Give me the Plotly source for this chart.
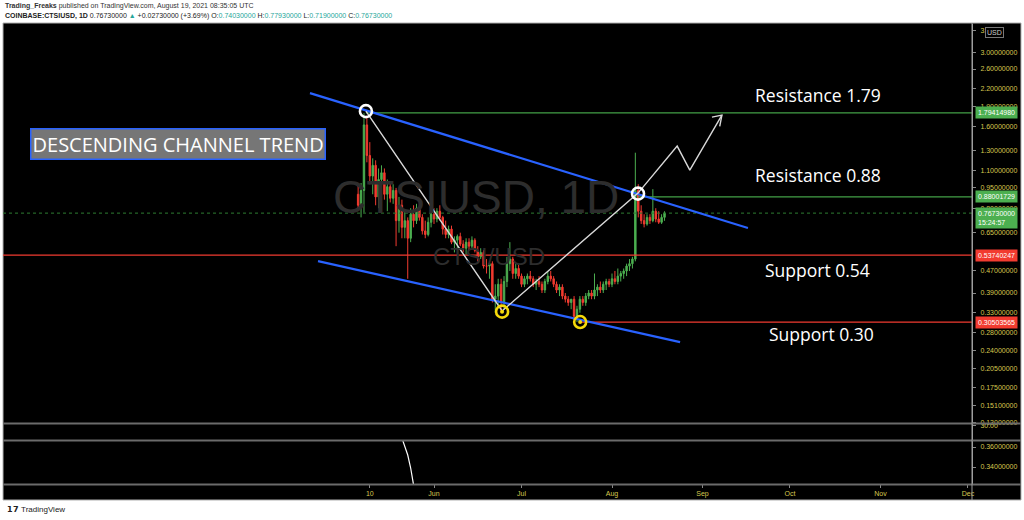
import math
import plotly.graph_objects as go

# ---------------- data ----------------
dates = [
    "2021-05-06", "2021-05-07", "2021-05-08", "2021-05-09", "2021-05-10", "2021-05-11", "2021-05-12",
    "2021-05-13", "2021-05-14", "2021-05-15", "2021-05-16", "2021-05-17", "2021-05-18", "2021-05-19",
    "2021-05-20", "2021-05-21", "2021-05-22", "2021-05-23", "2021-05-24", "2021-05-25", "2021-05-26",
    "2021-05-27", "2021-05-28", "2021-05-29", "2021-05-30", "2021-05-31", "2021-06-01", "2021-06-02",
    "2021-06-03", "2021-06-04", "2021-06-05", "2021-06-06", "2021-06-07", "2021-06-08", "2021-06-09",
    "2021-06-10", "2021-06-11", "2021-06-12", "2021-06-13", "2021-06-14", "2021-06-15", "2021-06-16",
    "2021-06-17", "2021-06-18", "2021-06-19", "2021-06-20", "2021-06-21", "2021-06-22", "2021-06-23",
    "2021-06-24", "2021-06-25", "2021-06-26", "2021-06-27", "2021-06-28", "2021-06-29", "2021-06-30",
    "2021-07-01", "2021-07-02", "2021-07-03", "2021-07-04", "2021-07-05", "2021-07-06", "2021-07-07",
    "2021-07-08", "2021-07-09", "2021-07-10", "2021-07-11", "2021-07-12", "2021-07-13", "2021-07-14",
    "2021-07-15", "2021-07-16", "2021-07-17", "2021-07-18", "2021-07-19", "2021-07-20", "2021-07-21",
    "2021-07-22", "2021-07-23", "2021-07-24", "2021-07-25", "2021-07-26", "2021-07-27", "2021-07-28",
    "2021-07-29", "2021-07-30", "2021-07-31", "2021-08-01", "2021-08-02", "2021-08-03", "2021-08-04",
    "2021-08-05", "2021-08-06", "2021-08-07", "2021-08-08", "2021-08-09", "2021-08-10", "2021-08-11",
    "2021-08-12", "2021-08-13", "2021-08-14", "2021-08-15", "2021-08-16", "2021-08-17", "2021-08-18",
    "2021-08-19",
]
opens = [
    0.90, 0.82, 0.93, 1.62, 1.25, 1.05, 1.15, 0.88, 1.02, 1.08, 0.90, 0.96, 0.87, 0.93,
    0.72, 0.82, 0.68, 0.72, 0.62, 0.76, 0.72, 0.80, 0.74, 0.66, 0.64, 0.71, 0.76, 0.73,
    0.78, 0.74, 0.67, 0.64, 0.67, 0.60, 0.61, 0.63, 0.59, 0.57, 0.60, 0.58, 0.61, 0.56,
    0.53, 0.55, 0.49, 0.49, 0.50, 0.37, 0.38, 0.42, 0.36, 0.43, 0.50, 0.52, 0.46, 0.48,
    0.45, 0.42, 0.44, 0.45, 0.44, 0.42, 0.43, 0.42, 0.40, 0.43, 0.45, 0.44, 0.42, 0.40,
    0.41, 0.38, 0.37, 0.36, 0.37, 0.32, 0.34, 0.37, 0.36, 0.38, 0.39, 0.38, 0.40, 0.41,
    0.40, 0.42, 0.43, 0.42, 0.44, 0.43, 0.45, 0.46, 0.47, 0.49, 0.50, 0.52, 0.93, 0.78,
    0.72, 0.70, 0.74, 0.72, 0.78, 0.73, 0.71, 0.7403,
]
highs = [
    0.97, 0.99, 1.79, 1.75, 1.40, 1.22, 1.20, 1.12, 1.15, 1.12, 1.02, 1.00, 0.98, 0.95,
    0.88, 0.86, 0.78, 0.74, 0.80, 0.82, 0.83, 0.84, 0.76, 0.72, 0.74, 0.78, 0.80, 0.80,
    0.82, 0.75, 0.72, 0.69, 0.69, 0.63, 0.64, 0.65, 0.61, 0.62, 0.62, 0.63, 0.62, 0.58,
    0.57, 0.56, 0.52, 0.51, 0.51, 0.42, 0.44, 0.44, 0.45, 0.53, 0.60, 0.53, 0.50, 0.50,
    0.46, 0.45, 0.46, 0.47, 0.45, 0.44, 0.45, 0.43, 0.44, 0.47, 0.47, 0.45, 0.43, 0.42,
    0.42, 0.39, 0.38, 0.37, 0.38, 0.35, 0.38, 0.38, 0.39, 0.40, 0.40, 0.46, 0.42, 0.43,
    0.43, 0.44, 0.44, 0.46, 0.47, 0.48, 0.47, 0.48, 0.50, 0.52, 0.53, 1.28, 0.98, 0.82,
    0.76, 0.76, 0.76, 0.94, 0.80, 0.78, 0.76, 0.7793,
]
lows = [
    0.80, 0.74, 0.77, 1.18, 0.98, 0.90, 0.82, 0.80, 0.93, 0.86, 0.78, 0.84, 0.83, 0.58,
    0.65, 0.62, 0.62, 0.44, 0.60, 0.68, 0.70, 0.72, 0.64, 0.62, 0.63, 0.68, 0.70, 0.71,
    0.72, 0.64, 0.62, 0.62, 0.59, 0.55, 0.57, 0.58, 0.55, 0.54, 0.56, 0.57, 0.55, 0.51,
    0.52, 0.48, 0.46, 0.44, 0.36, 0.33, 0.35, 0.33, 0.34, 0.41, 0.47, 0.44, 0.44, 0.44,
    0.41, 0.41, 0.42, 0.43, 0.41, 0.40, 0.41, 0.39, 0.39, 0.42, 0.43, 0.41, 0.39, 0.38,
    0.37, 0.36, 0.35, 0.34, 0.31, 0.305, 0.33, 0.35, 0.35, 0.37, 0.37, 0.37, 0.38, 0.39,
    0.39, 0.40, 0.41, 0.41, 0.42, 0.42, 0.43, 0.44, 0.45, 0.47, 0.48, 0.51, 0.74, 0.70,
    0.68, 0.69, 0.70, 0.71, 0.71, 0.70, 0.70, 0.7190,
]
closes = [
    0.82, 0.93, 1.62, 1.25, 1.05, 1.15, 0.88, 1.02, 1.08, 0.90, 0.96, 0.87, 0.93, 0.72,
    0.82, 0.68, 0.72, 0.62, 0.76, 0.72, 0.80, 0.74, 0.66, 0.64, 0.71, 0.76, 0.73, 0.78,
    0.74, 0.67, 0.64, 0.67, 0.60, 0.61, 0.63, 0.59, 0.57, 0.60, 0.58, 0.61, 0.56, 0.53,
    0.55, 0.49, 0.49, 0.50, 0.37, 0.38, 0.42, 0.36, 0.43, 0.50, 0.52, 0.46, 0.48, 0.45,
    0.42, 0.44, 0.45, 0.44, 0.42, 0.43, 0.42, 0.40, 0.43, 0.45, 0.44, 0.42, 0.40, 0.41,
    0.38, 0.37, 0.36, 0.37, 0.32, 0.34, 0.37, 0.36, 0.38, 0.39, 0.38, 0.40, 0.41, 0.40,
    0.42, 0.43, 0.42, 0.44, 0.43, 0.45, 0.46, 0.47, 0.49, 0.50, 0.52, 0.93, 0.78, 0.72,
    0.70, 0.74, 0.72, 0.78, 0.73, 0.71, 0.74, 0.7673,
]

# indicator sub-pane line
ind_dates = ["2021-05-21", "2021-05-22", "2021-05-23", "2021-05-24", "2021-05-25"]
ind_values = [0.369, 0.3605, 0.352, 0.339, 0.322]

# levels
resistance_hi = 1.79414980
resistance_lo = 0.88001729
support_hi = 0.53740247
support_lo = 0.30503565
last_price = 0.7673

# drawings (date, price)
upper_channel = (["2021-04-19 12:00", "2021-09-16 14:00"], [2.12, 0.676])
lower_channel = (["2021-04-22 06:00", "2021-08-24 08:00"], [0.511, 0.2574])
zigzag = (["2021-05-08 16:00", "2021-06-24 08:00", "2021-08-09 22:00", "2021-08-23 08:00",
           "2021-08-27 16:00", "2021-09-07 16:00"],
          [1.82, 0.335, 0.909, 1.354, 1.105, 1.76])
arrow_head = (["2021-09-04 06:00", "2021-09-07 16:00", "2021-09-06 22:00"], [1.73, 1.76, 1.60])
white_circles = (["2021-05-08 16:00", "2021-08-09 22:00"], [1.82, 0.905])
yellow_circles = (["2021-06-24 08:00", "2021-07-21 02:00"], [0.333, 0.305])

y_ticks = [3.6, 3.0, 2.6, 2.2, 1.9, 1.6, 1.3, 1.1, 0.95, 0.80, 0.65, 0.47, 0.39, 0.33,
           0.28, 0.24, 0.205, 0.175, 0.151, 0.13]
y_tick_text = ["3.6", "3.00000000", "2.60000000", "2.20000000", "1.90000000", "1.60000000",
               "1.30000000", "1.10000000", "0.95000000", "0.80000000", "0.65000000",
               "0.47000000", "0.39000000", "0.33000000", "0.28000000", "0.24000000",
               "0.20500000", "0.17500000", "0.15100000", "0.13000000"]
x_tick_vals = ["2021-05-10", "2021-06-01", "2021-07-01", "2021-08-01", "2021-09-01",
               "2021-10-01", "2021-11-01", "2021-12-01"]
x_tick_text = ["10", "Jun", "Jul", "Aug", "Sep", "Oct", "Nov", "Dec"]

X_RANGE = ["2021-01-04 07:00", "2021-12-02 09:00"]

# ---------------- layout geometry ----------------
W, H = 1024, 520
ML, MR, MT, MB = 3, 52, 24, 36
PW = W - ML - MR
PH = H - MT - MB


def pxx(p):
    return (p - ML) / PW


def pxy(p):
    return (H - MB - p) / PH


GREEN = "#4caf50"
RED = "#f23b30"
BLUE = "#2962ff"
YELLOW = "#f5d90a"
AXIS_TXT = "#d6c74f"
FONT = "Liberation Sans, Arial, sans-serif"
SMALL = 7

fig = go.Figure()

fig.add_trace(go.Candlestick(
    x=dates, open=opens, high=highs, low=lows, close=closes,
    increasing=dict(line=dict(color=GREEN, width=1), fillcolor=GREEN),
    decreasing=dict(line=dict(color=RED, width=1), fillcolor=RED),
    whiskerwidth=0, showlegend=False, hoverinfo="skip",
))

# level lines
fig.add_trace(go.Scatter(x=X_RANGE, y=[last_price, last_price], mode="lines",
                         line=dict(color="#2e7d32", width=1, dash="dot"), hoverinfo="skip", showlegend=False))
fig.add_trace(go.Scatter(x=X_RANGE, y=[support_hi, support_hi], mode="lines",
                         line=dict(color=RED, width=1.3), hoverinfo="skip", showlegend=False))
fig.add_trace(go.Scatter(x=[yellow_circles[0][1], X_RANGE[1]], y=[support_lo, support_lo], mode="lines",
                         line=dict(color=RED, width=1.3), hoverinfo="skip", showlegend=False))
fig.add_trace(go.Scatter(x=[white_circles[0][0], X_RANGE[1]], y=[resistance_hi, resistance_hi], mode="lines",
                         line=dict(color="#43a047", width=1.3), hoverinfo="skip", showlegend=False))
fig.add_trace(go.Scatter(x=[white_circles[0][1], X_RANGE[1]], y=[resistance_lo, resistance_lo], mode="lines",
                         line=dict(color="#43a047", width=1.3), hoverinfo="skip", showlegend=False))

# channel lines
for xs, ys in (upper_channel, lower_channel):
    fig.add_trace(go.Scatter(x=xs, y=ys, mode="lines", line=dict(color=BLUE, width=2.2),
                             hoverinfo="skip", showlegend=False))

# zigzag path + arrow head
fig.add_trace(go.Scatter(x=zigzag[0], y=zigzag[1], mode="lines", line=dict(color="#d9d9d9", width=1.4),
                         hoverinfo="skip", showlegend=False))
fig.add_trace(go.Scatter(x=arrow_head[0], y=arrow_head[1], mode="lines", line=dict(color="#d9d9d9", width=1.4),
                         hoverinfo="skip", showlegend=False))

# circles
fig.add_trace(go.Scatter(x=white_circles[0], y=white_circles[1], mode="markers",
                         marker=dict(symbol="circle-open", size=12, color="white", line=dict(width=2.6)),
                         hoverinfo="skip", showlegend=False))
fig.add_trace(go.Scatter(x=yellow_circles[0], y=yellow_circles[1], mode="markers",
                         marker=dict(symbol="circle-open", size=12, color=YELLOW, line=dict(width=2.6)),
                         hoverinfo="skip", showlegend=False))
fig.add_trace(go.Scatter(x=yellow_circles[0], y=yellow_circles[1], mode="markers",
                         marker=dict(symbol="circle", size=4, color=YELLOW),
                         hoverinfo="skip", showlegend=False))

# indicator pane
fig.add_trace(go.Scatter(x=ind_dates, y=ind_values, mode="lines", line=dict(color="white", width=1.2),
                         xaxis="x", yaxis="y3", hoverinfo="skip", showlegend=False))
fig.add_trace(go.Scatter(x=[X_RANGE[0]], y=[10], mode="markers", marker=dict(opacity=0),
                         xaxis="x", yaxis="y2", hoverinfo="skip", showlegend=False))

main_dom = [pxy(423), 1]
sub1_dom = [pxy(440), pxy(424)]
sub2_dom = [0, pxy(441)]

axis_font = dict(family=FONT, size=SMALL, color=AXIS_TXT)
yaxis_common = dict(side="right", anchor="x", tickfont=axis_font, ticks="outside", ticklen=3,
                    tickcolor="#888", ticklabelstandoff=3, showgrid=False, zeroline=False,
                    showline=True, linecolor="#9e9e9e", linewidth=1, fixedrange=True)

fig.update_layout(
    width=W, height=H,
    margin=dict(l=ML, r=MR, t=MT, b=MB),
    paper_bgcolor="white",
    plot_bgcolor="black",
    showlegend=False,
    xaxis=dict(
        type="date", range=X_RANGE, anchor="y3",
        tickvals=x_tick_vals, ticktext=x_tick_text,
        tickfont=axis_font, ticks="outside", ticklen=3, tickcolor="#888",
        showgrid=False, zeroline=False, showline=False,
        rangeslider=dict(visible=False), fixedrange=True,
    ),
    yaxis=dict(type="log", domain=main_dom, range=[math.log10(0.1297), math.log10(3.807)],
               tickvals=y_ticks, ticktext=y_tick_text, **yaxis_common),
    yaxis2=dict(domain=sub1_dom, range=[0, 34], tickvals=[30], ticktext=["30.00"], **yaxis_common),
    yaxis3=dict(domain=sub2_dom, range=[0.323, 0.366], tickvals=[0.36, 0.34],
                ticktext=["0.36000000", "0.34000000"], **yaxis_common),
)

shapes = [
    dict(type="rect", xref="paper", yref="paper", x0=pxx(3), x1=pxx(1021), y0=pxy(500), y1=pxy(23),
         fillcolor="black", line=dict(color="#b0b0b0", width=1), layer="below"),
    dict(type="line", xref="paper", yref="paper", x0=pxx(3), x1=pxx(1021), y0=pxy(423.5), y1=pxy(423.5),
         line=dict(color="#6b6b6b", width=2)),
    dict(type="line", xref="paper", yref="paper", x0=pxx(3), x1=pxx(1021), y0=pxy(440.5), y1=pxy(440.5),
         line=dict(color="#6b6b6b", width=2)),
    dict(type="line", xref="paper", yref="paper", x0=pxx(3), x1=pxx(1021), y0=pxy(484.5), y1=pxy(484.5),
         line=dict(color="#6b6b6b", width=2)),
    dict(type="line", xref="paper", yref="paper", x0=pxx(972), x1=pxx(972), y0=pxy(500), y1=pxy(23),
         line=dict(color="#9e9e9e", width=1)),
]
fig.update_layout(shapes=shapes)

ann = []


def price_label(value, text, color):
    ann.append(dict(xref="paper", yref="y", x=pxx(975), y=math.log10(value), xanchor="left", yanchor="middle",
                    text=text, showarrow=False, bgcolor=color, borderpad=2,
                    font=dict(family=FONT, size=SMALL, color="white")))


price_label(resistance_hi, "1.79414980", GREEN)
price_label(resistance_lo, "0.88001729", GREEN)
price_label(support_hi, "0.53740247", RED)
price_label(support_lo, "0.30503565", RED)
ann.append(dict(xref="paper", yref="paper", x=pxx(975), y=pxy(207), xanchor="left", yanchor="top",
                text="0.76730000<br>15:24:57", showarrow=False, bgcolor=GREEN, borderpad=2, align="left",
                font=dict(family=FONT, size=SMALL, color="white")))
ann.append(dict(xref="paper", yref="paper", x=pxx(994), y=pxy(32), xanchor="center", yanchor="middle",
                text="USD", showarrow=False, bgcolor="black", bordercolor="#777", borderwidth=1, borderpad=1,
                font=dict(family=FONT, size=SMALL, color="#cccccc")))

# watermarks
ann.append(dict(xref="paper", yref="paper", x=pxx(476), y=pxy(197), xanchor="center", yanchor="middle",
                text="CTSIUSD, 1D", showarrow=False, font=dict(family=FONT, size=46, color="#2d2d2d")))
ann.append(dict(xref="paper", yref="paper", x=pxx(489), y=pxy(256), xanchor="center", yanchor="middle",
                text="CTSI/USD", showarrow=False, font=dict(family=FONT, size=24, color="#2d2d2d")))

# labels
big = dict(family="Open Sans, Liberation Sans, sans-serif", size=17.5, color="white")
for txt, lx, cy in (("Resistance 1.79", 753, 95), ("Resistance 0.88", 753, 175),
                    ("Support 0.54", 763, 270), ("Support 0.30", 767, 334)):
    ann.append(dict(xref="paper", yref="paper", x=pxx(lx), y=pxy(cy), xanchor="left", yanchor="middle",
                    text=txt, showarrow=False, font=big))

ann.append(dict(xref="paper", yref="paper", x=pxx(30), y=pxy(143.5), xanchor="left", yanchor="middle",
                text="DESCENDING CHANNEL TREND",
                showarrow=False, bgcolor="#767676", bordercolor=BLUE, borderwidth=1.5, borderpad=1,
                font=dict(family="Open Sans, Liberation Sans, sans-serif", size=20, color="white")))

# header
ann.append(dict(xref="paper", yref="paper", x=pxx(3), y=pxy(6), xanchor="left", yanchor="middle",
                text="<b>Trading_Freaks</b> published on TradingView.com, August 19, 2021 08:35:05 UTC",
                showarrow=False, font=dict(family=FONT, size=SMALL, color="#333333")))
TEAL = "#26a69a"
hdr2 = ("<b>COINBASE:CTSIUSD, 1D</b> 0.76730000 <span style='color:%s'>▲</span> +0.02730000 (+3.69%%) "
        "O:<span style='color:%s'>0.74030000</span> H:<span style='color:%s'>0.77930000</span> "
        "L:<span style='color:%s'>0.71900000</span> C:<span style='color:%s'>0.76730000</span>") % (
    TEAL, TEAL, TEAL, TEAL, TEAL)
ann.append(dict(xref="paper", yref="paper", x=pxx(3), y=pxy(16), xanchor="left", yanchor="middle",
                text=hdr2, showarrow=False, font=dict(family=FONT, size=SMALL, color="#222222")))
ann.append(dict(xref="paper", yref="paper", x=pxx(5), y=pxy(509), xanchor="left", yanchor="middle",
                text="<b>𝟭𝟳</b> TradingView", showarrow=False,
                font=dict(family=FONT, size=8, color="#222222")))

fig.update_layout(annotations=ann)

fig.write_html("out.html", config={"displayModeBar": False, "staticPlot": True},
               post_script="document.body.style.margin='0';document.body.style.overflow='hidden';")
